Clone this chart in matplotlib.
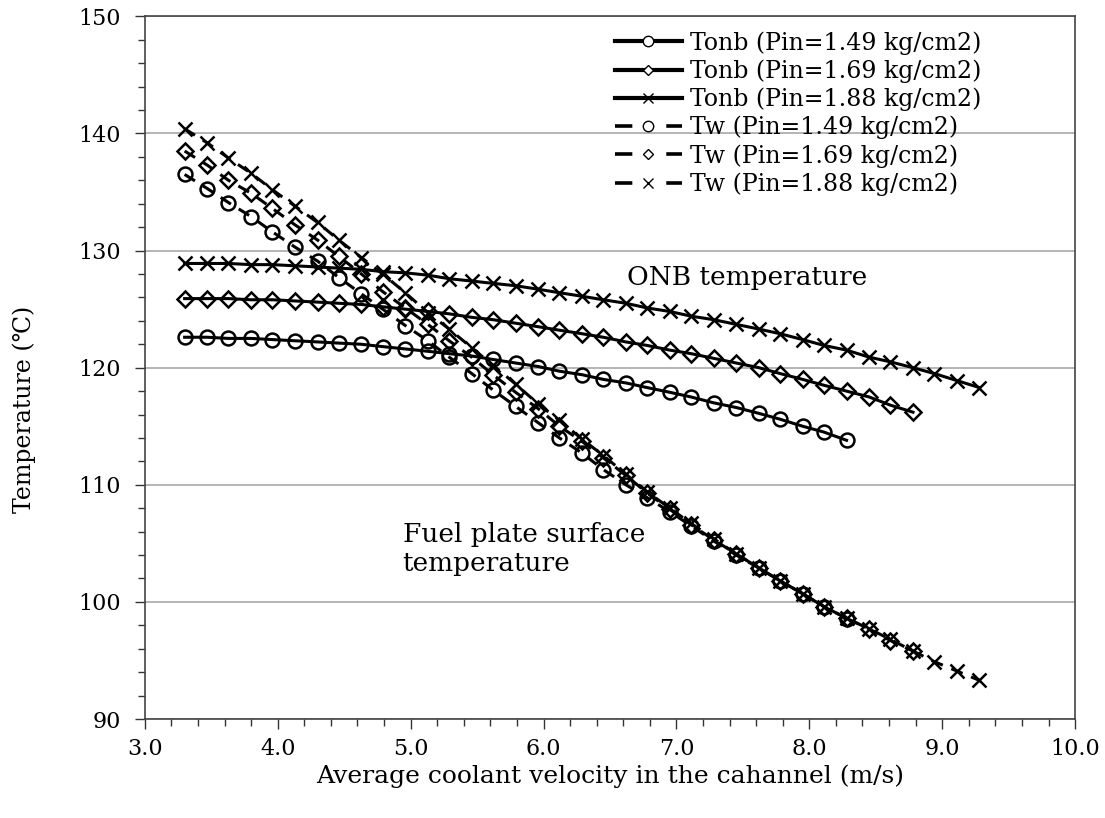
import matplotlib
matplotlib.use('Agg')
import matplotlib.pyplot as plt
from matplotlib.lines import Line2D
from matplotlib.ticker import MultipleLocator, FormatStrFormatter

# velocity points shared by all curves (m/s)
velocity = [3.30, 3.47, 3.63, 3.80, 3.96, 4.13, 4.30, 4.46, 4.63, 4.79,
            4.96, 5.13, 5.29, 5.46, 5.62, 5.79, 5.96, 6.12, 6.29, 6.45,
            6.62, 6.78, 6.95, 7.11, 7.28, 7.45, 7.62, 7.78, 7.95, 8.11,
            8.28, 8.45, 8.61, 8.78, 8.94, 9.11, 9.28]

# ONB temperature
tonb_149 = [122.6, 122.6, 122.5, 122.5, 122.4, 122.3, 122.2, 122.1, 122.0, 121.8,
            121.6, 121.4, 121.2, 121.0, 120.7, 120.4, 120.1, 119.7, 119.4, 119.0,
            118.7, 118.3, 117.9, 117.5, 117.0, 116.6, 116.1, 115.6, 115.0, 114.5,
            113.8]
tonb_169 = [125.9, 125.9, 125.9, 125.8, 125.8, 125.7, 125.6, 125.5, 125.4, 125.2,
            125.0, 124.8, 124.6, 124.3, 124.1, 123.8, 123.5, 123.2, 122.9, 122.6,
            122.2, 121.9, 121.5, 121.2, 120.8, 120.4, 120.0, 119.5, 119.0, 118.5,
            118.0, 117.5, 116.8, 116.2]
tonb_188 = [128.9, 128.9, 128.9, 128.8, 128.8, 128.7, 128.6, 128.5, 128.4, 128.2,
            128.1, 127.9, 127.6, 127.4, 127.2, 127.0, 126.7, 126.4, 126.1, 125.8,
            125.5, 125.1, 124.8, 124.4, 124.1, 123.7, 123.3, 122.9, 122.4, 121.9,
            121.5, 120.9, 120.5, 120.0, 119.5, 118.9, 118.3]

# fuel plate surface temperature
tw_149 = [136.5, 135.3, 134.1, 132.9, 131.6, 130.3, 129.1, 127.7, 126.3, 125.0,
          123.6, 122.3, 120.9, 119.5, 118.1, 116.7, 115.3, 114.0, 112.7, 111.3,
          110.0, 108.9, 107.7, 106.5, 105.2, 104.0, 102.9, 101.8, 100.7, 99.6,
          98.5]
tw_169 = [138.5, 137.3, 136.0, 134.9, 133.6, 132.2, 130.9, 129.5, 128.0, 126.5,
          125.1, 123.7, 122.3, 120.9, 119.4, 117.9, 116.5, 115.0, 113.7, 112.3,
          110.8, 109.3, 107.9, 106.6, 105.3, 104.1, 102.9, 101.8, 100.7, 99.6,
          98.6, 97.7, 96.7, 95.8]
tw_188 = [140.4, 139.2, 137.9, 136.6, 135.2, 133.8, 132.4, 130.9, 129.4, 128.0,
          126.4, 124.7, 123.3, 121.7, 120.2, 118.6, 116.9, 115.5, 113.9, 112.5,
          110.9, 109.4, 108.0, 106.7, 105.4, 104.1, 102.9, 101.8, 100.7, 99.6,
          98.6, 97.7, 96.8, 95.8, 94.9, 94.1, 93.3]

labels = ['Tonb (Pin=1.49 kg/cm2)', 'Tonb (Pin=1.69 kg/cm2)', 'Tonb (Pin=1.88 kg/cm2)',
          'Tw (Pin=1.49 kg/cm2)', 'Tw (Pin=1.69 kg/cm2)', 'Tw (Pin=1.88 kg/cm2)']

plt.rcParams['font.family'] = ['DejaVu Serif', 'DejaVu Sans']

fig = plt.figure(figsize=(11.05, 8.18), dpi=100)
ax = fig.add_axes([0.131, 0.121, 0.842, 0.859])

dash = (0, (4, 3))
series = [(tonb_149, 'o', '-'), (tonb_169, 'D', '-'), (tonb_188, 'x', '-'),
          (tw_149, 'o', dash), (tw_169, 'D', dash), (tw_188, 'x', dash)]

for ys, mk, ls in series:
    ms = 8.5 if mk == 'D' else 10
    ax.plot(velocity[:len(ys)], ys, color='black', linestyle=ls, lw=2.2,
            marker=mk, ms=ms, mfc='none', mec='black', mew=1.8, zorder=3)

ax.set_xlim(3.0, 10.0)
ax.set_ylim(90, 150)
ax.xaxis.set_major_locator(MultipleLocator(1.0))
ax.xaxis.set_minor_locator(MultipleLocator(0.2))
ax.yaxis.set_major_locator(MultipleLocator(10))
ax.yaxis.set_minor_locator(MultipleLocator(2))
ax.xaxis.set_major_formatter(FormatStrFormatter('%.1f'))
ax.tick_params(which='both', direction='out', color='#333333', labelsize=16)
ax.tick_params(which='major', length=7, width=1)
ax.tick_params(which='minor', length=5, width=1)
ax.tick_params(axis='x', pad=7)
ax.tick_params(axis='y', pad=10)
ax.grid(axis='y', which='major', color='#a0a0a0', lw=1.1)
ax.set_axisbelow(True)
for sp in ax.spines.values():
    sp.set_color('#444444')
    sp.set_linewidth(1.2)

ax.set_xlabel('Average coolant velocity in the cahannel (m/s)', fontsize=18, labelpad=3)
ax.set_ylabel('Temperature (\u2103)', fontsize=17)
ax.yaxis.set_label_coords(-0.117, 0.44)

ax.text(6.63, 127.7, 'ONB temperature', fontsize=19, va='center', ha='left')
ax.text(4.94, 104.5, 'Fuel plate surface\ntemperature', fontsize=19, va='center',
        ha='left', linespacing=1.2)

handles = []
for ys, mk, ls in series:
    if ls == '-':
        h = Line2D([], [], color='black', linestyle='-', lw=3,
                   marker=mk, ms=5.5 if mk == 'D' else 7.5, mfc='white', mec='black', mew=1)
    else:
        h = Line2D([], [], color='black', linestyle=(0, (4.8, 9.4)), lw=2.6,
                   marker=mk, ms=5.5 if mk == 'D' else 7.5, mfc='white', mec='black', mew=1)
    handles.append(h)
ax.legend(handles, labels, loc='upper left', bbox_to_anchor=(0.505, 0.979), frameon=False,
          fontsize=17, handlelength=2.85, handletextpad=0.35, labelspacing=0.2,
          borderaxespad=0, borderpad=0)

plt.savefig('out.png', dpi=100)
